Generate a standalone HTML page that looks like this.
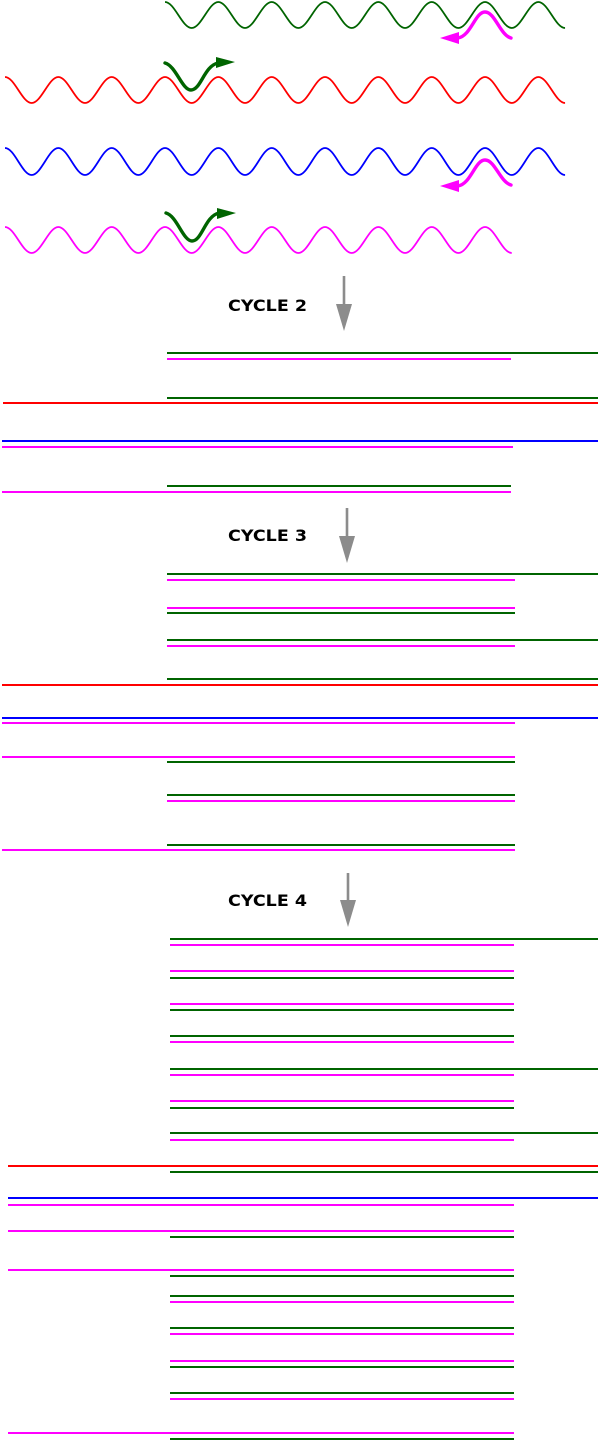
<!DOCTYPE html>
<html><head><meta charset="utf-8"><style>
html,body{margin:0;padding:0;background:#fff;width:600px;height:1440px;overflow:hidden}
svg{display:block}
</style></head><body>
<svg width="600" height="1440" viewBox="0 0 600 1440" xmlns="http://www.w3.org/2000/svg">
<g fill="none" stroke-width="1.8">
<path stroke="#006400" d="M165 2 c9.6,0 17.07,26 26.67,26 c9.6,0 17.07,-26 26.67,-26 c9.6,0 17.07,26 26.67,26 c9.6,0 17.07,-26 26.67,-26 c9.6,0 17.07,26 26.67,26 c9.6,0 17.07,-26 26.67,-26 c9.6,0 17.07,26 26.67,26 c9.6,0 17.07,-26 26.67,-26 c9.6,0 17.07,26 26.67,26 c9.6,0 17.07,-26 26.67,-26 c9.6,0 17.07,26 26.67,26 c9.6,0 17.07,-26 26.67,-26 c9.6,0 17.07,26 26.67,26 c9.6,0 17.07,-26 26.67,-26 c9.6,0 17.07,26 26.67,26"/>
<path stroke="#ff0000" d="M5 77 c9.6,0 17.07,26 26.67,26 c9.6,0 17.07,-26 26.67,-26 c9.6,0 17.07,26 26.67,26 c9.6,0 17.07,-26 26.67,-26 c9.6,0 17.07,26 26.67,26 c9.6,0 17.07,-26 26.67,-26 c9.6,0 17.07,26 26.67,26 c9.6,0 17.07,-26 26.67,-26 c9.6,0 17.07,26 26.67,26 c9.6,0 17.07,-26 26.67,-26 c9.6,0 17.07,26 26.67,26 c9.6,0 17.07,-26 26.67,-26 c9.6,0 17.07,26 26.67,26 c9.6,0 17.07,-26 26.67,-26 c9.6,0 17.07,26 26.67,26 c9.6,0 17.07,-26 26.67,-26 c9.6,0 17.07,26 26.67,26 c9.6,0 17.07,-26 26.67,-26 c9.6,0 17.07,26 26.67,26 c9.6,0 17.07,-26 26.67,-26 c9.6,0 17.07,26 26.67,26"/>
<path stroke="#0000ff" d="M5 148 c9.6,0 17.07,27 26.67,27 c9.6,0 17.07,-27 26.67,-27 c9.6,0 17.07,27 26.67,27 c9.6,0 17.07,-27 26.67,-27 c9.6,0 17.07,27 26.67,27 c9.6,0 17.07,-27 26.67,-27 c9.6,0 17.07,27 26.67,27 c9.6,0 17.07,-27 26.67,-27 c9.6,0 17.07,27 26.67,27 c9.6,0 17.07,-27 26.67,-27 c9.6,0 17.07,27 26.67,27 c9.6,0 17.07,-27 26.67,-27 c9.6,0 17.07,27 26.67,27 c9.6,0 17.07,-27 26.67,-27 c9.6,0 17.07,27 26.67,27 c9.6,0 17.07,-27 26.67,-27 c9.6,0 17.07,27 26.67,27 c9.6,0 17.07,-27 26.67,-27 c9.6,0 17.07,27 26.67,27 c9.6,0 17.07,-27 26.67,-27 c9.6,0 17.07,27 26.67,27"/>
<path stroke="#ff00ff" d="M5 227 c9.6,0 17.07,26 26.67,26 c9.6,0 17.07,-26 26.67,-26 c9.6,0 17.07,26 26.67,26 c9.6,0 17.07,-26 26.67,-26 c9.6,0 17.07,26 26.67,26 c9.6,0 17.07,-26 26.67,-26 c9.6,0 17.07,26 26.67,26 c9.6,0 17.07,-26 26.67,-26 c9.6,0 17.07,26 26.67,26 c9.6,0 17.07,-26 26.67,-26 c9.6,0 17.07,26 26.67,26 c9.6,0 17.07,-26 26.67,-26 c9.6,0 17.07,26 26.67,26 c9.6,0 17.07,-26 26.67,-26 c9.6,0 17.07,26 26.67,26 c9.6,0 17.07,-26 26.67,-26 c9.6,0 17.07,26 26.67,26 c9.6,0 17.07,-26 26.67,-26 c9.6,0 17.07,26 26.67,26"/>
</g>
<g fill="none" stroke-width="3.4" stroke-linecap="round">
<path stroke="#006400" d="M165 63 C176 66 182 90 191 90 C201 90 204 66 218 63"/>
<path stroke="#006400" d="M166 213 C177 216 183 241 192 241 C202 241 205 216 219 213"/>
<path stroke="#ff00ff" d="M511 38 C500 35 495 12 485 12 C475 12 471 36 458 38"/>
<path stroke="#ff00ff" d="M511 185 C500 182 495 160 485 160 C475 160 471 184 458 186"/>
</g>
<polygon fill="#006400" points="216,57 235,62 216,68"/>
<polygon fill="#006400" points="217,208 236,213 217,219"/>
<polygon fill="#ff00ff" points="459,32 440,38 459,44"/>
<polygon fill="#ff00ff" points="459,180 440,186 459,192"/>

<g fill="#8c8c8c" stroke="#8c8c8c" stroke-width="2.6">
<line x1="344" y1="276" x2="344" y2="307"/><polygon stroke="none" points="336,304 352,304 344,331"/>
<line x1="347" y1="508" x2="347" y2="539"/><polygon stroke="none" points="339,536 355,536 347,563"/>
<line x1="348" y1="873" x2="348" y2="903"/><polygon stroke="none" points="340,900 356,900 348,927"/>
</g>
<g font-family="DejaVu Sans, Liberation Sans, sans-serif" font-weight="bold" font-size="16" fill="#000">
<text x="228" y="311" textLength="79" lengthAdjust="spacingAndGlyphs">CYCLE 2</text>
<text x="228" y="541" textLength="79" lengthAdjust="spacingAndGlyphs">CYCLE 3</text>
<text x="228" y="906" textLength="79" lengthAdjust="spacingAndGlyphs">CYCLE 4</text>
</g>

<g stroke-width="2">
<line stroke="#006400" x1="167" y1="353" x2="598" y2="353"/>
<line stroke="#ff00ff" x1="167" y1="359" x2="511" y2="359"/>
<line stroke="#006400" x1="167" y1="398" x2="598" y2="398"/>
<line stroke="#ff0000" x1="3" y1="403" x2="598" y2="403"/>
<line stroke="#0000ff" x1="2" y1="441" x2="598" y2="441"/>
<line stroke="#ff00ff" x1="2" y1="447" x2="513" y2="447"/>
<line stroke="#006400" x1="167" y1="486" x2="511" y2="486"/>
<line stroke="#ff00ff" x1="2" y1="492" x2="511" y2="492"/>
<line stroke="#006400" x1="167" y1="574" x2="598" y2="574"/>
<line stroke="#ff00ff" x1="167" y1="580" x2="515" y2="580"/>
<line stroke="#ff00ff" x1="167" y1="608" x2="515" y2="608"/>
<line stroke="#006400" x1="167" y1="613" x2="515" y2="613"/>
<line stroke="#006400" x1="167" y1="640" x2="598" y2="640"/>
<line stroke="#ff00ff" x1="167" y1="646" x2="515" y2="646"/>
<line stroke="#006400" x1="167" y1="679" x2="598" y2="679"/>
<line stroke="#ff0000" x1="2" y1="685" x2="598" y2="685"/>
<line stroke="#0000ff" x1="2" y1="718" x2="598" y2="718"/>
<line stroke="#ff00ff" x1="2" y1="723" x2="515" y2="723"/>
<line stroke="#ff00ff" x1="2" y1="757" x2="515" y2="757"/>
<line stroke="#006400" x1="167" y1="762" x2="515" y2="762"/>
<line stroke="#006400" x1="167" y1="795" x2="515" y2="795"/>
<line stroke="#ff00ff" x1="167" y1="801" x2="515" y2="801"/>
<line stroke="#006400" x1="167" y1="845" x2="515" y2="845"/>
<line stroke="#ff00ff" x1="2" y1="850" x2="515" y2="850"/>
<line stroke="#006400" x1="170" y1="939" x2="598" y2="939"/>
<line stroke="#ff00ff" x1="170" y1="945" x2="514" y2="945"/>
<line stroke="#ff00ff" x1="170" y1="971" x2="514" y2="971"/>
<line stroke="#006400" x1="170" y1="978" x2="514" y2="978"/>
<line stroke="#ff00ff" x1="170" y1="1004" x2="514" y2="1004"/>
<line stroke="#006400" x1="170" y1="1010" x2="514" y2="1010"/>
<line stroke="#006400" x1="170" y1="1036" x2="514" y2="1036"/>
<line stroke="#ff00ff" x1="170" y1="1042" x2="514" y2="1042"/>
<line stroke="#006400" x1="170" y1="1069" x2="598" y2="1069"/>
<line stroke="#ff00ff" x1="170" y1="1075" x2="514" y2="1075"/>
<line stroke="#ff00ff" x1="170" y1="1101" x2="514" y2="1101"/>
<line stroke="#006400" x1="170" y1="1108" x2="514" y2="1108"/>
<line stroke="#006400" x1="170" y1="1133" x2="598" y2="1133"/>
<line stroke="#ff00ff" x1="170" y1="1140" x2="514" y2="1140"/>
<line stroke="#ff0000" x1="8" y1="1166" x2="598" y2="1166"/>
<line stroke="#006400" x1="170" y1="1172" x2="598" y2="1172"/>
<line stroke="#0000ff" x1="8" y1="1198" x2="598" y2="1198"/>
<line stroke="#ff00ff" x1="8" y1="1205" x2="514" y2="1205"/>
<line stroke="#ff00ff" x1="8" y1="1231" x2="514" y2="1231"/>
<line stroke="#006400" x1="170" y1="1237" x2="514" y2="1237"/>
<line stroke="#ff00ff" x1="8" y1="1270" x2="514" y2="1270"/>
<line stroke="#006400" x1="170" y1="1276" x2="514" y2="1276"/>
<line stroke="#006400" x1="170" y1="1296" x2="514" y2="1296"/>
<line stroke="#ff00ff" x1="170" y1="1302" x2="514" y2="1302"/>
<line stroke="#006400" x1="170" y1="1328" x2="514" y2="1328"/>
<line stroke="#ff00ff" x1="170" y1="1334" x2="514" y2="1334"/>
<line stroke="#ff00ff" x1="170" y1="1361" x2="514" y2="1361"/>
<line stroke="#006400" x1="170" y1="1367" x2="514" y2="1367"/>
<line stroke="#006400" x1="170" y1="1393" x2="514" y2="1393"/>
<line stroke="#ff00ff" x1="170" y1="1399" x2="514" y2="1399"/>
<line stroke="#ff00ff" x1="8" y1="1433" x2="514" y2="1433"/>
<line stroke="#006400" x1="170" y1="1439" x2="514" y2="1439"/>
</g>
</svg>
</body></html>
